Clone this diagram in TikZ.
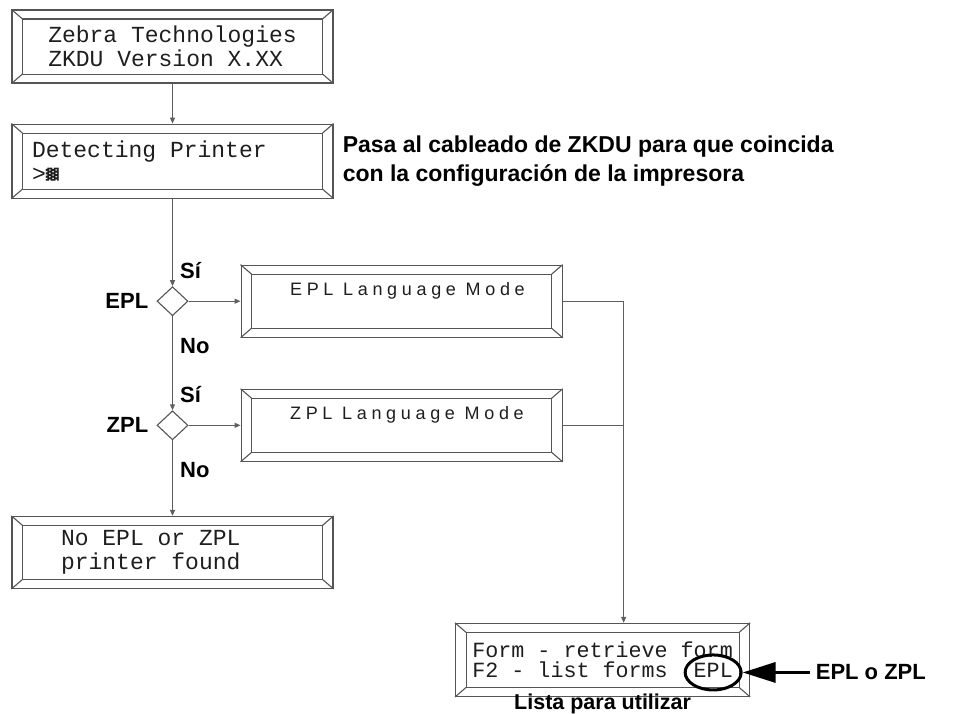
\documentclass[tikz,border=0pt]{standalone}
\usepackage{fontspec}
\usepackage{graphicx}
\usetikzlibrary{positioning, arrows.meta, shapes.geometric}
\newfontfamily\lcdfont{Liberation Mono}
\newfontfamily\modefont{Liberation Sans}[LetterSpace=26]
\newfontfamily\labelfont{Liberation Sans}
\newfontfamily\blockfont{DejaVu Sans Mono}
\definecolor{framegray}{RGB}{85, 85, 85}
\definecolor{linegray}{RGB}{95, 95, 95}
\definecolor{lcdtext}{RGB}{30, 30, 30}

% bevelled display frame round a named node
\newcommand{\bevel}[1]{%
  \draw[framegray, line width=1.1pt] ([shift={(11pt,-9.5pt)}]#1.north west) rectangle ([shift={(-11pt,9.5pt)}]#1.south east);
  \draw[framegray, line width=1.1pt] (#1.north west) -- ++(11pt,-9.5pt);
  \draw[framegray, line width=1.1pt] (#1.north east) -- ++(-11pt,-9.5pt);
  \draw[framegray, line width=1.1pt] (#1.south west) -- ++(11pt,9.5pt);
  \draw[framegray, line width=1.1pt] (#1.south east) -- ++(-11pt,9.5pt);
}

\begin{document}
\begin{tikzpicture}[
    lcdbox/.style={
        draw=framegray,
        line width=1.1pt,
        minimum width=321pt,
        minimum height=73pt,
        inner sep=0pt,
        align=flush left,
        text=lcdtext,
        font=\lcdfont\fontsize{23}{24}\selectfont
    },
    modebox/.style={
        lcdbox,
        minimum height=72pt,
        text width=223pt,
        font=\modefont\fontsize{18}{24}\selectfont
    },
    decision/.style={
        diamond,
        draw=framegray,
        line width=1.1pt,
        minimum width=31pt,
        minimum height=29pt,
        inner sep=0pt
    },
    lbl/.style={inner sep=0pt, font=\labelfont\bfseries\fontsize{22}{26}\selectfont},
    notelbl/.style={inner sep=0pt, align=left, font=\labelfont\bfseries\fontsize{23}{29}\selectfont},
    wire/.style={draw=linegray, line width=1.2pt},
    flow/.style={wire, ->, >={Triangle[length=6pt, width=5pt]}}
]
\useasboundingbox (0pt,0pt) rectangle (972pt,-713pt);

% === Start-up screens ===
\node[lcdbox] (zebra) at (172.5pt,-46.5pt) {Zebra Technologies\\ZKDU Version X.XX};
\bevel{zebra}
\node[lcdbox, minimum height=74pt, text width=281pt, below=40pt of zebra] (detect) {Detecting Printer\\>\resizebox{13pt}{13pt}{\raisebox{\depth}{\blockfont ▓}}};
\bevel{detect}
\node[notelbl, right=9pt of detect] (note) {Pasa al cableado de ZKDU para que coincida\\con la configuración de la impresora};

% === EPL check ===
\node[decision, below=87.5pt of detect] (epl) {};
\node[lbl, left=8pt of epl] (epltag) {EPL};
\node[lbl, above right=7.5pt and 7.5pt of epl.north] (eplyes) {Sí};
\node[lbl, below right=21.5pt and 7.5pt of epl.south] (eplno) {No};
\node[modebox, right=52pt of epl] (eplmode) {\mbox{EPL Language Mode}\\\phantom{X}};
\bevel{eplmode}

% === ZPL check ===
\node[decision, below=94pt of epl] (zpl) {};
\node[lbl, left=8pt of zpl] (zpltag) {ZPL};
\node[lbl, above right=7.5pt and 7.5pt of zpl.north] (zplyes) {Sí};
\node[lbl, below right=21.5pt and 7.5pt of zpl.south] (zplno) {No};
\node[modebox, right=52pt of zpl] (zplmode) {\mbox{ZPL Language Mode}\\\phantom{X}};
\bevel{zplmode}

\node[lcdbox, minimum height=72pt, text width=223pt, below=75.5pt of zpl] (none) {No EPL or ZPL\\printer found};
\bevel{none}

% === Ready screen ===
\coordinate[right=61pt of eplmode] (bus);
\node[lcdbox, minimum width=294pt, font=\lcdfont\fontsize{21.7}{19.5}\selectfont, below=161pt of zplmode, xshift=201pt] (form) {Form - retrieve form\\F2 - list forms~~EPL};
\bevel{form}
\node[ellipse, draw, line width=3pt, minimum width=56pt, minimum height=35pt] (mark) at ([xshift=-37pt, yshift=24.5pt]form.south east) {};
\node[lbl, font=\labelfont\bfseries\fontsize{21.5}{26}\selectfont, below=-3.5pt of form] (ready) {Lista para utilizar};
\node[lbl, right=73pt of mark] (choice) {EPL o ZPL};

% === Arrows ===
\draw[flow] (zebra) -- (detect);
\draw[flow] (detect) -- (epl);
\draw[flow] (epl) -- (zpl);
\draw[flow] (zpl) -- (none);
\draw[flow] (epl) -- (eplmode);
\draw[flow] (zpl) -- (zplmode);
\draw[wire] (eplmode) -- (bus);
\draw[wire] (zplmode) -- (zplmode -| bus);
\draw[flow] (bus) -- (bus |- form.north);
\draw[-{Triangle[length=33pt, width=20pt]}, line width=3.5pt, shorten <=6pt] (choice) -- (mark);

\end{tikzpicture}
\end{document}
